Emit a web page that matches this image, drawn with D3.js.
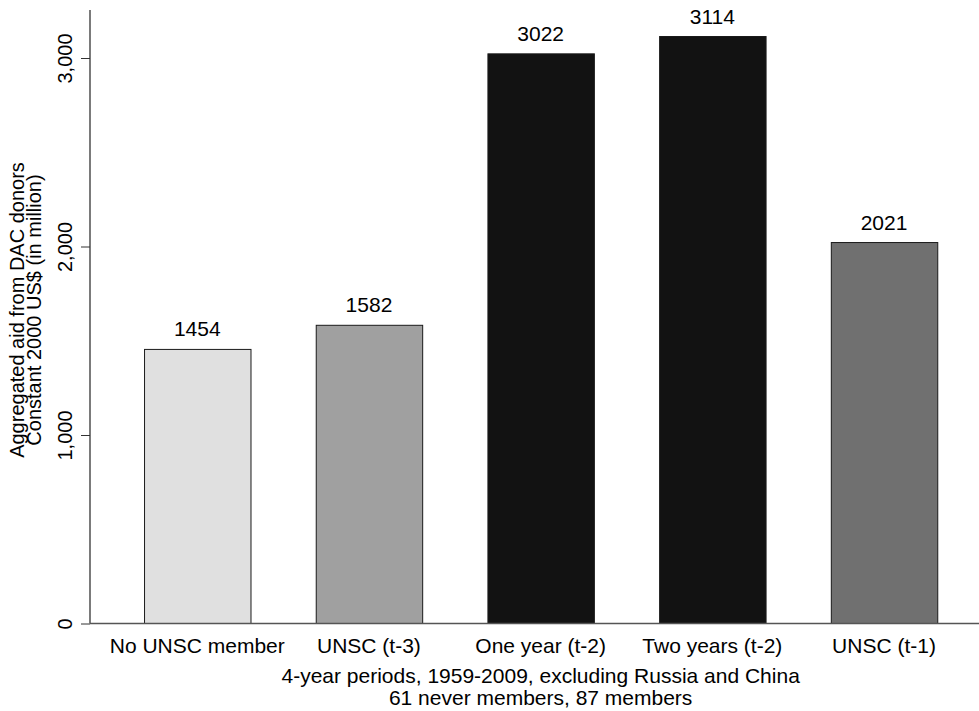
<!DOCTYPE html>
<html>
<head>
<meta charset="utf-8">
<script src="https://cdn.jsdelivr.net/npm/d3@7"></script>
<style>
  html, body { margin: 0; padding: 0; background: #fff; }
  svg text { font-family: "Liberation Sans", Arial, Helvetica, sans-serif; fill: #000; }
</style>
</head>
<body>
<script>
const categories = ["No UNSC member", "UNSC (t-3)", "One year (t-2)", "Two years (t-2)", "UNSC (t-1)"];
const values = [1454, 1582, 3022, 3114, 2021];
const barColors = ["#e0e0e0", "#a0a0a0", "#121212", "#121212", "#707070"];
const yTicks = [0, 1000, 2000, 3000];
const yTitle = ["Aggregated aid from DAC donors", "Constant 2000 US$ (in million)"];
const xTitle = ["4-year periods, 1959-2009, excluding Russia and China", "61 never members, 87 members"];

const W = 979, H = 711;
const svg = d3.select("body").append("svg").attr("width", W).attr("height", H);

const axisX = 90, axisTop = 10, zeroY = 623.5;
const y = d3.scaleLinear().domain([0, 3000]).range([zeroY, 58]);
const x = d3.scaleBand().domain(categories).range([109.7, 971.6]).paddingInner(0.38).paddingOuter(0.2);

const FS = 21, FSY = 20;

// bars
svg.selectAll("rect.bar").data(values).enter().append("rect")
  .attr("class", "bar")
  .attr("x", (d, i) => x(categories[i]) + 0.5)
  .attr("width", x.bandwidth())
  .attr("y", d => y(d))
  .attr("height", d => zeroY - y(d))
  .attr("fill", (d, i) => barColors[i])
  .attr("stroke", "#1a1a1a")
  .attr("stroke-width", 1);

// value labels
svg.selectAll("text.val").data(values).enter().append("text")
  .attr("class", "val")
  .attr("x", (d, i) => x(categories[i]) + x.bandwidth() / 2)
  .attr("y", d => y(d) - 13)
  .attr("text-anchor", "middle")
  .style("font-size", FS + "px")
  .text(d => d);

// y axis
const yAxis = d3.axisLeft(y).tickValues(yTicks).tickSize(9).tickFormat(d3.format(","));
const gy = svg.append("g").attr("transform", `translate(${axisX},0)`).call(yAxis);
gy.select(".domain").remove();
gy.selectAll(".tick line").attr("stroke", "#333");
gy.selectAll(".tick text")
  .attr("x", 0).attr("y", 0).attr("dy", 0)
  .attr("text-anchor", "middle")
  .attr("transform", "translate(-18,0) rotate(-90)")
  .style("font-size", FSY + "px")
  .style("font-family", "'Liberation Sans', Arial, sans-serif");
svg.append("line").attr("x1", axisX).attr("x2", axisX).attr("y1", axisTop).attr("y2", zeroY)
  .attr("stroke", "#333").attr("stroke-width", 1.3);

// x axis
const xAxis = d3.axisBottom(x).tickSize(0).tickPadding(0);
const gx = svg.append("g").attr("transform", `translate(0,${zeroY})`).call(xAxis);
gx.select(".domain").remove();
gx.selectAll(".tick text")
  .attr("dy", 0).attr("y", 29.5)
  .style("font-size", FS + "px")
  .style("font-family", "'Liberation Sans', Arial, sans-serif");
svg.append("line").attr("x1", axisX).attr("x2", W).attr("y1", zeroY).attr("y2", zeroY)
  .attr("stroke", "#555").attr("stroke-width", 1.3);

// y title
const yt = svg.append("text")
  .attr("transform", "translate(0,310) rotate(-90)")
  .attr("text-anchor", "middle")
  .style("font-size", FSY + "px");
yTitle.forEach((t, i) => yt.append("tspan").attr("x", 0).attr("y", 24 + i * 17).text(t));

// x title
const xc = (x(categories[0]) + x(categories[4]) + x.bandwidth()) / 2;
svg.selectAll("text.xt").data(xTitle).enter().append("text")
  .attr("class", "xt")
  .attr("x", xc)
  .attr("y", (d, i) => 683 + i * 22)
  .attr("text-anchor", "middle")
  .style("font-size", FS + "px")
  .text(d => d);
</script>
</body>
</html>
